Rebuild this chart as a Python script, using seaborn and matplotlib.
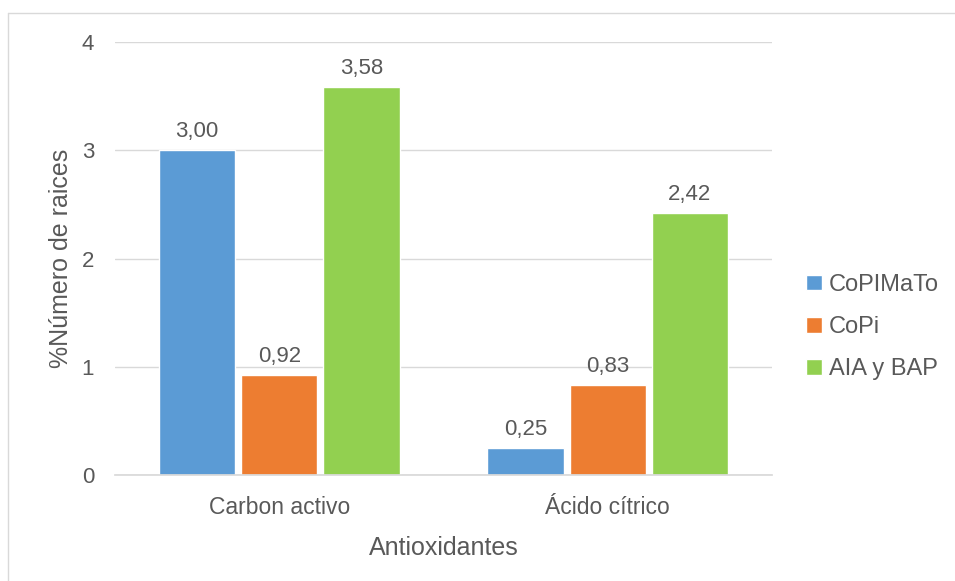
import matplotlib
matplotlib.use("Agg")
import pandas as pd
import seaborn as sns
from matplotlib import pyplot as plt
from matplotlib.lines import Line2D

categories = ["Carbon activo", "Ácido cítrico"]
series = ["CoPIMaTo", "CoPi", "AIA y BAP"]
copimato = [3.00, 0.25]
copi = [0.92, 0.83]
aia_bap = [3.58, 2.42]
colors = ["#5B9BD5", "#ED7D31", "#92D050"]
TEXT = "#595959"

rows = []
for name, values in zip(series, [copimato, copi, aia_bap]):
    for cat, v in zip(categories, values):
        rows.append({"Antioxidantes": cat, "serie": name, "valor": v})
df = pd.DataFrame(rows)

sns.set_theme(style="white")
plt.rcParams["font.family"] = ["Liberation Sans", "DejaVu Sans"]

fig = plt.figure(figsize=(9.55, 5.81), dpi=100)
ax = fig.add_axes([0.1204, 0.1824, 0.688, 0.7453])

sns.barplot(
    ax=ax, data=df, x="Antioxidantes", y="valor", hue="serie",
    hue_order=series, order=categories, palette=colors,
    width=0.75, gap=0.07, saturation=1, errorbar=None,
)

for container in ax.containers:
    ax.bar_label(
        container, labels=[f"{v:.2f}".replace(".", ",") for v in container.datavalues],
        padding=6, fontsize=16, color=TEXT,
    )

ax.set_ylim(0, 4)
ax.set_yticks([0, 1, 2, 3, 4])
ax.yaxis.grid(True, color="#D9D9D9", linewidth=1)
ax.set_axisbelow(True)
for side in ["top", "right", "left"]:
    ax.spines[side].set_visible(False)
ax.spines["bottom"].set_color("#D9D9D9")
ax.tick_params(axis="y", colors=TEXT, labelsize=16, length=0, pad=15)
ax.tick_params(axis="x", colors=TEXT, labelsize=16.5, length=0, pad=15)
ax.set_xlabel("Antioxidantes", fontsize=18, color=TEXT, labelpad=12)
ax.set_ylabel("%Número de raices", fontsize=18, color=TEXT, labelpad=6)

ax.legend(
    loc="center left", bbox_to_anchor=(1.02, 0.342), frameon=False,
    fontsize=17, labelcolor=TEXT, handlelength=0.65, handleheight=0.65,
    handletextpad=0.3, labelspacing=0.85,
)

# only the top and left edges of the chart frame are inside the picture
fig.lines.append(Line2D([8 / 955, 1], [1 - 13 / 581] * 2, transform=fig.transFigure,
                        color="#D9D9D9", linewidth=1))
fig.lines.append(Line2D([8 / 955] * 2, [0, 1 - 13 / 581], transform=fig.transFigure,
                        color="#D9D9D9", linewidth=1))

fig.savefig("out.png", dpi=100)
